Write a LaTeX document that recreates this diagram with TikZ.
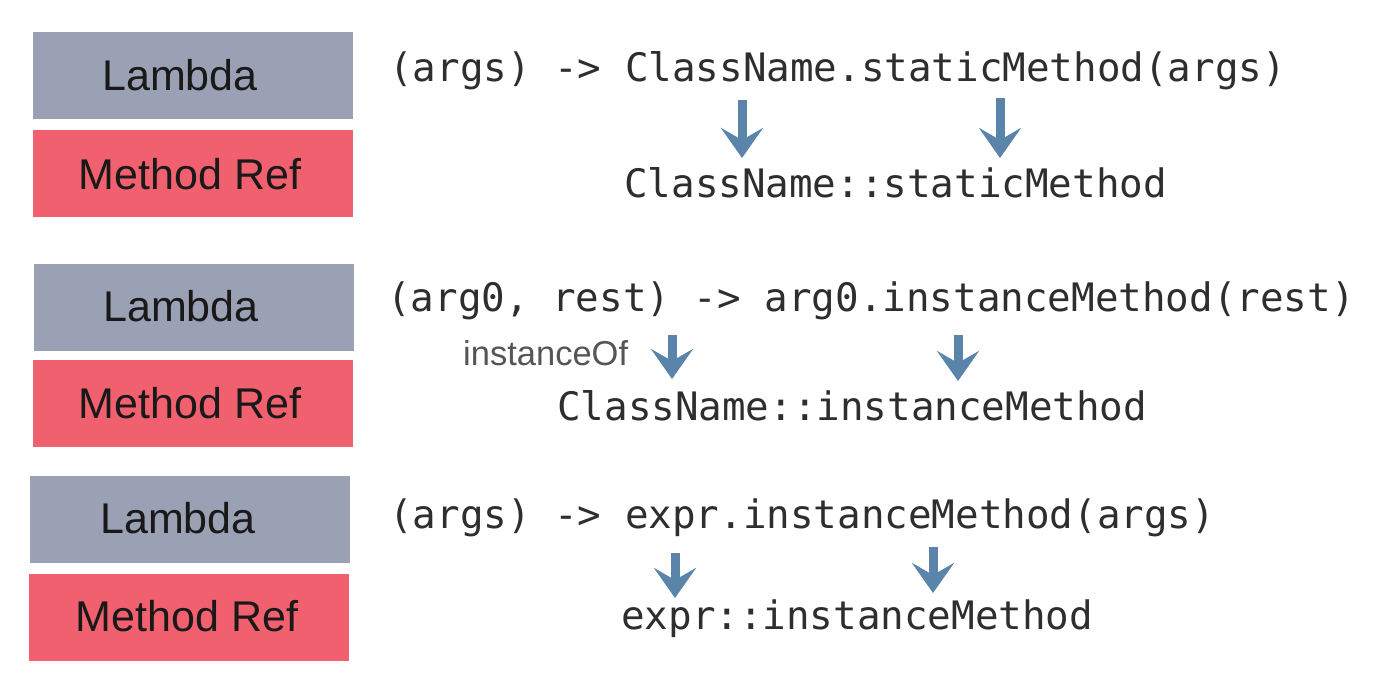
\documentclass[tikz,border=0pt]{standalone}
\usepackage{fontspec}
\setmainfont{Liberation Sans}
\newfontfamily\codefont{DejaVu Sans Mono}
\usetikzlibrary{arrows.meta}
\definecolor{lambdafill}{HTML}{9BA1B5}
\definecolor{reffill}{HTML}{F0606F}
\definecolor{arrowblue}{HTML}{5A84AA}
\definecolor{codegray}{HTML}{2E2E2E}
\definecolor{notegray}{HTML}{555555}
\tikzset{
  lambdabox/.style={draw=none, fill=lambdafill, minimum width=320pt, minimum height=87pt, inner sep=0pt},
  refbox/.style={draw=none, fill=reffill, minimum width=320pt, minimum height=87pt, inner sep=0pt},
  boxtext/.style={inner sep=0pt, font=\fontsize{43}{50}\selectfont, text=black!90},
  code/.style={inner sep=0pt, anchor=west, font=\codefont\fontsize{39.2}{47}\selectfont, text=codegray},
  note/.style={inner sep=0pt, anchor=west, font=\fontsize{34.5}{40}\selectfont, text=notegray},
  downarrow/.style={draw=arrowblue, line width=9pt, -{Stealth[length=30pt,width=42pt,inset=12pt]}}
}
\begin{document}
\begin{tikzpicture}[x=1pt,y=-1pt]
\useasboundingbox[fill=white] (0,0) rectangle (1378,674);
% boxes
\node[lambdabox] (l1) at (192.5,75.5) {};
\node[refbox] (r1) at (193,173.5) {};
\node[lambdabox] (l2) at (193.5,307.5) {};
\node[refbox] (r2) at (193,403.5) {};
\node[lambdabox] (l3) at (190,519) {};
\node[refbox] (r3) at (189,617) {};
\node[boxtext] (lt1) at (180,75) {Lambda};
\node[boxtext] (rt1) at (190,174) {Method Ref};
\node[boxtext] (lt2) at (181,306) {Lambda};
\node[boxtext] (rt2) at (190,403) {Method Ref};
\node[boxtext] (lt3) at (178,518) {Lambda};
\node[boxtext] (rt3) at (187,616) {Method Ref};
% code
\node[code] (c1) at (389,71) {(args) -> ClassName.staticMethod(args)};
\node[code] (m1) at (624,183) {ClassName::staticMethod};
\node[code] (c2) at (387,301) {(arg0, rest) -> arg0.instanceMethod(rest)};
\node[code] (m2) at (557,406) {ClassName::instanceMethod};
\node[note] (io) at (463,353) {instanceOf};
\node[code] (c3) at (389,518) {(args) -> expr.instanceMethod(args)};
\node[code] (m3) at (621,619) {expr::instanceMethod};
% arrows
\coordinate (a1s) at (742,100); \coordinate (a1e) at (742,158);
\coordinate (a2s) at (1000,98); \coordinate (a2e) at (1000,158);
\coordinate (a3s) at (672,335); \coordinate (a3e) at (672,379);
\coordinate (a4s) at (958,335); \coordinate (a4e) at (958,381);
\coordinate (a5s) at (675,553); \coordinate (a5e) at (675,598);
\coordinate (a6s) at (933,547); \coordinate (a6e) at (933,593);
\draw[downarrow] (a1s) -- (a1e);
\draw[downarrow] (a2s) -- (a2e);
\draw[downarrow] (a3s) -- (a3e);
\draw[downarrow] (a4s) -- (a4e);
\draw[downarrow] (a5s) -- (a5e);
\draw[downarrow] (a6s) -- (a6e);
\end{tikzpicture}
\end{document}
